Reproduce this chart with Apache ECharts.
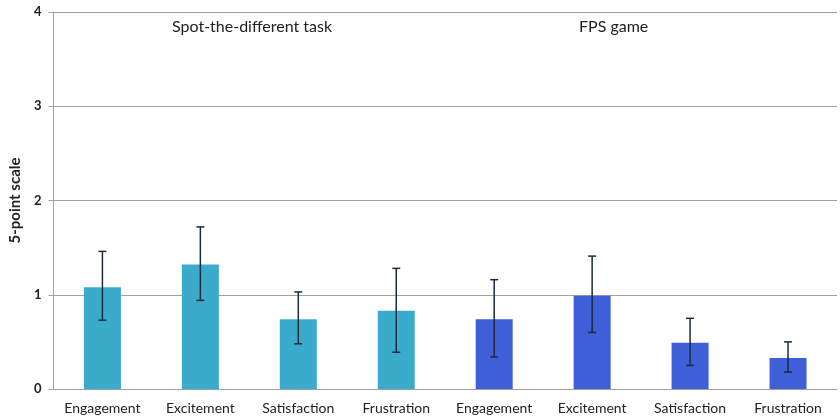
<!DOCTYPE html>
<html>
<head>
<meta charset="utf-8" />
<title>5-point scale</title>
<script src="https://cdn.jsdelivr.net/npm/echarts@6/dist/echarts.min.js"></script>
<style>
  html, body { margin: 0; padding: 0; background: #fff; }
  #main { width: 840px; height: 420px; }
</style>
</head>
<body>
<div id="main"></div>
<script type="text/javascript">
// data
var categories = ['Engagement', 'Excitement', 'Satisfaction', 'Frustration',
                  'Engagement', 'Excitement', 'Satisfaction', 'Frustration'];
var groups = ['Spot-the-different task', 'FPS game'];
var groupOf = [0, 0, 0, 0, 1, 1, 1, 1];
var means = [1.08, 1.32, 0.74, 0.83, 0.74, 0.99, 0.49, 0.33];
var errLow = [0.73, 0.94, 0.48, 0.39, 0.34, 0.60, 0.25, 0.18];
var errHigh = [1.46, 1.72, 1.03, 1.28, 1.16, 1.41, 0.75, 0.50];
var yTicks = [0, 1, 2, 3, 4];

var groupColors = ['#3aabcb', '#3f5fd8'];
var font = 'Lato, "Open Sans", sans-serif';

var chart = echarts.init(document.getElementById('main'));

var errData = means.map(function (m, i) { return [i, errLow[i], errHigh[i]]; });

var option = {
  animation: false,
  grid: { left: 53, right: 3, top: 12, bottom: 31 },
  xAxis: {
    type: 'category',
    data: categories,
    axisLine: { lineStyle: { color: '#a0a0a0', width: 1 } },
    axisTick: { show: false },
    axisLabel: { color: '#222', fontFamily: font, fontSize: 14, margin: 12, interval: 0 }
  },
  yAxis: {
    type: 'value',
    min: yTicks[0],
    max: yTicks[yTicks.length - 1],
    interval: 1,
    name: '5-point scale',
    nameLocation: 'middle',
    nameGap: 29,
    nameTextStyle: { color: '#222', fontFamily: font, fontSize: 15, fontWeight: 'bold' },
    axisLine: { show: true, lineStyle: { color: '#a0a0a0' } },
    axisTick: { show: true, length: 5, lineStyle: { color: '#a0a0a0' } },
    axisLabel: { color: '#222', fontFamily: font, fontSize: 13, fontWeight: 'bold', margin: 12 },
    splitLine: { lineStyle: { color: '#a0a0a0', width: 1 } }
  },
  graphic: [
    { type: 'text', left: 172, top: 19, style: { text: groups[0], fill: '#222', font: '16px ' + font } },
    { type: 'text', left: 579, top: 19, style: { text: groups[1], fill: '#222', font: '16px ' + font } }
  ],
  series: [
    {
      type: 'bar',
      barWidth: 37,
      data: means.map(function (v, i) {
        return { value: v, itemStyle: { color: groupColors[groupOf[i]] } };
      })
    },
    {
      type: 'custom',
      data: errData,
      z: 10,
      renderItem: function (params, api) {
        var x = api.value(0);
        var lo = api.coord([x, api.value(1)]);
        var hi = api.coord([x, api.value(2)]);
        var cap = 4;
        var st = { stroke: '#1c2a3e', lineWidth: 1.5 };
        return {
          type: 'group',
          children: [
            { type: 'line', shape: { x1: hi[0], y1: hi[1], x2: lo[0], y2: lo[1] }, style: st },
            { type: 'line', shape: { x1: hi[0] - cap, y1: hi[1], x2: hi[0] + cap, y2: hi[1] }, style: st },
            { type: 'line', shape: { x1: lo[0] - cap, y1: lo[1], x2: lo[0] + cap, y2: lo[1] }, style: st }
          ]
        };
      }
    }
  ]
};

chart.setOption(option);
</script>
</body>
</html>
